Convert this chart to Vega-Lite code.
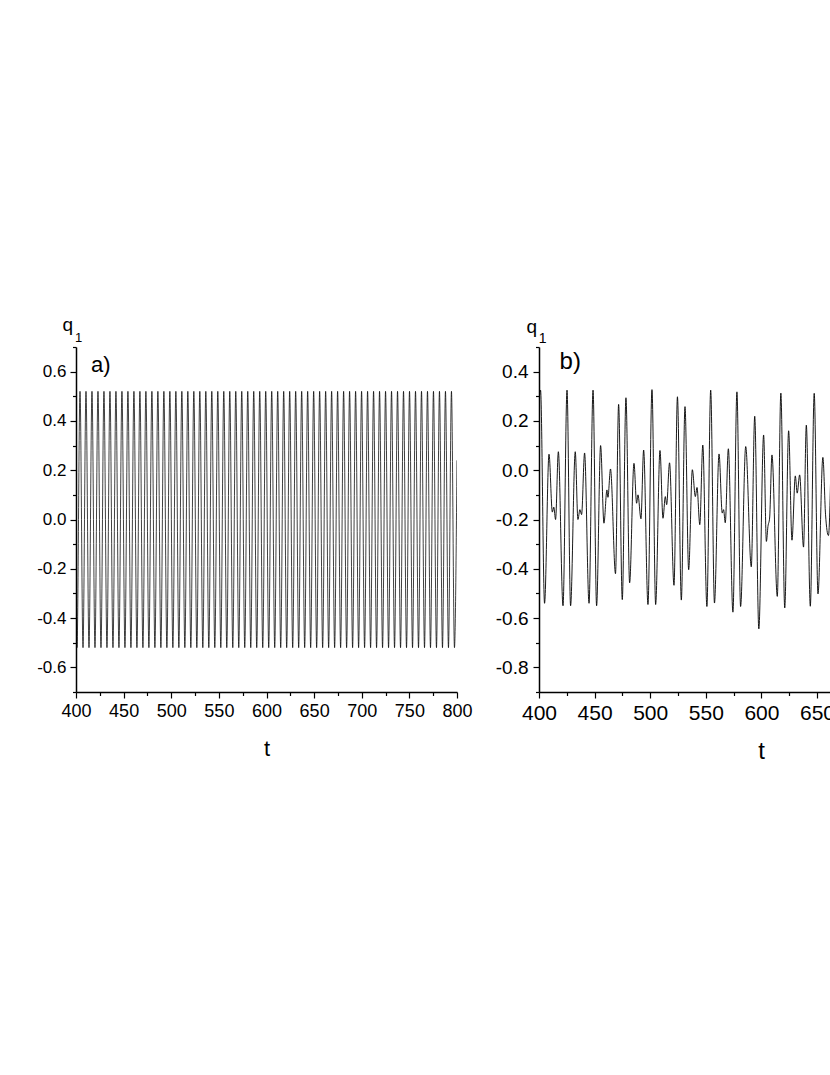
{
  "$schema": "https://vega.github.io/schema/vega-lite/v6.json",
  "padding": {"left": 36, "top": 315, "right": 0, "bottom": 20},
  "config": {
    "view": {"stroke": null},
    "font": "Liberation Sans",
    "axis": {"grid": false, "domainColor": "black", "tickColor": "black", "labelColor": "black", "titleColor": "black", "titleFontWeight": "normal", "domainWidth": 1.5, "tickWidth": 1.2, "labelFlush": false, "labelOverlap": false, "labelFont": "Liberation Sans", "titleFont": "Liberation Sans"}
  },
  "datasets": {
    "seriesA": [
      {"t": 400, "q": -0.25}, {"t": 401.05, "q": -0.52},
      {"t": 404.20, "q": 0.52}, {"t": 407.35, "q": -0.52},
      {"t": 410.49, "q": 0.52}, {"t": 413.64, "q": -0.52},
      {"t": 416.78, "q": 0.52}, {"t": 419.93, "q": -0.52},
      {"t": 423.07, "q": 0.52}, {"t": 426.22, "q": -0.52},
      {"t": 429.36, "q": 0.52}, {"t": 432.51, "q": -0.52},
      {"t": 435.65, "q": 0.52}, {"t": 438.80, "q": -0.52},
      {"t": 441.94, "q": 0.52}, {"t": 445.09, "q": -0.52},
      {"t": 448.23, "q": 0.52}, {"t": 451.38, "q": -0.52},
      {"t": 454.52, "q": 0.52}, {"t": 457.67, "q": -0.52},
      {"t": 460.81, "q": 0.52}, {"t": 463.96, "q": -0.52},
      {"t": 467.10, "q": 0.52}, {"t": 470.25, "q": -0.52},
      {"t": 473.39, "q": 0.52}, {"t": 476.54, "q": -0.52},
      {"t": 479.68, "q": 0.52}, {"t": 482.83, "q": -0.52},
      {"t": 485.97, "q": 0.52}, {"t": 489.12, "q": -0.52},
      {"t": 492.26, "q": 0.52}, {"t": 495.41, "q": -0.52},
      {"t": 498.55, "q": 0.52}, {"t": 501.70, "q": -0.52},
      {"t": 504.84, "q": 0.52}, {"t": 507.99, "q": -0.52},
      {"t": 511.13, "q": 0.52}, {"t": 514.28, "q": -0.52},
      {"t": 517.42, "q": 0.52}, {"t": 520.57, "q": -0.52},
      {"t": 523.71, "q": 0.52}, {"t": 526.86, "q": -0.52},
      {"t": 530.00, "q": 0.52}, {"t": 533.15, "q": -0.52},
      {"t": 536.29, "q": 0.52}, {"t": 539.44, "q": -0.52},
      {"t": 542.58, "q": 0.52}, {"t": 545.73, "q": -0.52},
      {"t": 548.87, "q": 0.52}, {"t": 552.02, "q": -0.52},
      {"t": 555.16, "q": 0.52}, {"t": 558.31, "q": -0.52},
      {"t": 561.45, "q": 0.52}, {"t": 564.60, "q": -0.52},
      {"t": 567.74, "q": 0.52}, {"t": 570.89, "q": -0.52},
      {"t": 574.03, "q": 0.52}, {"t": 577.18, "q": -0.52},
      {"t": 580.32, "q": 0.52}, {"t": 583.47, "q": -0.52},
      {"t": 586.61, "q": 0.52}, {"t": 589.76, "q": -0.52},
      {"t": 592.90, "q": 0.52}, {"t": 596.05, "q": -0.52},
      {"t": 599.19, "q": 0.52}, {"t": 602.34, "q": -0.52},
      {"t": 605.48, "q": 0.52}, {"t": 608.63, "q": -0.52},
      {"t": 611.77, "q": 0.52}, {"t": 614.92, "q": -0.52},
      {"t": 618.06, "q": 0.52}, {"t": 621.21, "q": -0.52},
      {"t": 624.35, "q": 0.52}, {"t": 627.50, "q": -0.52},
      {"t": 630.64, "q": 0.52}, {"t": 633.79, "q": -0.52},
      {"t": 636.93, "q": 0.52}, {"t": 640.08, "q": -0.52},
      {"t": 643.22, "q": 0.52}, {"t": 646.37, "q": -0.52},
      {"t": 649.51, "q": 0.52}, {"t": 652.66, "q": -0.52},
      {"t": 655.80, "q": 0.52}, {"t": 658.95, "q": -0.52},
      {"t": 662.09, "q": 0.52}, {"t": 665.24, "q": -0.52},
      {"t": 668.38, "q": 0.52}, {"t": 671.53, "q": -0.52},
      {"t": 674.67, "q": 0.52}, {"t": 677.82, "q": -0.52},
      {"t": 680.96, "q": 0.52}, {"t": 684.11, "q": -0.52},
      {"t": 687.25, "q": 0.52}, {"t": 690.40, "q": -0.52},
      {"t": 693.54, "q": 0.52}, {"t": 696.69, "q": -0.52},
      {"t": 699.83, "q": 0.52}, {"t": 702.98, "q": -0.52},
      {"t": 706.12, "q": 0.52}, {"t": 709.27, "q": -0.52},
      {"t": 712.41, "q": 0.52}, {"t": 715.56, "q": -0.52},
      {"t": 718.70, "q": 0.52}, {"t": 721.85, "q": -0.52},
      {"t": 724.99, "q": 0.52}, {"t": 728.14, "q": -0.52},
      {"t": 731.28, "q": 0.52}, {"t": 734.43, "q": -0.52},
      {"t": 737.57, "q": 0.52}, {"t": 740.72, "q": -0.52},
      {"t": 743.86, "q": 0.52}, {"t": 747.01, "q": -0.52},
      {"t": 750.15, "q": 0.52}, {"t": 753.30, "q": -0.52},
      {"t": 756.44, "q": 0.52}, {"t": 759.59, "q": -0.52},
      {"t": 762.73, "q": 0.52}, {"t": 765.88, "q": -0.52},
      {"t": 769.02, "q": 0.52}, {"t": 772.17, "q": -0.52},
      {"t": 775.31, "q": 0.52}, {"t": 778.46, "q": -0.52},
      {"t": 781.60, "q": 0.52}, {"t": 784.75, "q": -0.52},
      {"t": 787.89, "q": 0.52}, {"t": 791.04, "q": -0.52},
      {"t": 794.18, "q": 0.52}, {"t": 797.33, "q": -0.52},
      {"t": 800, "q": 0.24}
    ],
    "seriesB": [
      {"t": 400.0, "q": 0.28}, {"t": 401.4, "q": 0.325}, {"t": 405.0, "q": -0.54},
      {"t": 409.0, "q": 0.065}, {"t": 412.0, "q": -0.17}, {"t": 413.3, "q": -0.15},
      {"t": 414.9, "q": -0.2}, {"t": 417.4, "q": 0.075}, {"t": 421.6, "q": -0.55},
      {"t": 425.2, "q": 0.325}, {"t": 428.4, "q": -0.55}, {"t": 432.6, "q": 0.075},
      {"t": 435.0, "q": -0.2}, {"t": 436.8, "q": -0.16}, {"t": 438.3, "q": -0.18},
      {"t": 441.0, "q": 0.07}, {"t": 445.0, "q": -0.54}, {"t": 448.6, "q": 0.325},
      {"t": 451.8, "q": -0.55}, {"t": 455.4, "q": 0.1}, {"t": 458.4, "q": -0.215},
      {"t": 461.1, "q": -0.08}, {"t": 462.0, "q": -0.11}, {"t": 464.3, "q": 0.005},
      {"t": 468.8, "q": -0.42}, {"t": 471.6, "q": 0.267}, {"t": 474.9, "q": -0.525},
      {"t": 478.2, "q": 0.294}, {"t": 481.5, "q": -0.457}, {"t": 485.4, "q": 0.028},
      {"t": 487.8, "q": -0.134}, {"t": 489.0, "q": -0.1}, {"t": 491.7, "q": -0.197},
      {"t": 494.1, "q": 0.082}, {"t": 498.0, "q": -0.545}, {"t": 501.6, "q": 0.327},
      {"t": 504.9, "q": -0.545}, {"t": 508.8, "q": 0.08}, {"t": 511.5, "q": -0.195},
      {"t": 513.6, "q": -0.107}, {"t": 514.8, "q": -0.14}, {"t": 517.4, "q": 0.03},
      {"t": 521.4, "q": -0.467}, {"t": 524.5, "q": 0.298}, {"t": 528.0, "q": -0.527},
      {"t": 531.3, "q": 0.258}, {"t": 534.6, "q": -0.404}, {"t": 537.9, "q": 0.002},
      {"t": 540.6, "q": -0.107}, {"t": 542.1, "q": -0.07}, {"t": 544.6, "q": -0.221},
      {"t": 547.3, "q": 0.102}, {"t": 551.0, "q": -0.553}, {"t": 554.4, "q": 0.325},
      {"t": 557.8, "q": -0.539}, {"t": 561.9, "q": 0.066}, {"t": 564.8, "q": -0.174},
      {"t": 566.0, "q": -0.16}, {"t": 567.5, "q": -0.213}, {"t": 570.3, "q": 0.087},
      {"t": 574.4, "q": -0.576}, {"t": 578.0, "q": 0.318}, {"t": 581.3, "q": -0.553},
      {"t": 585.9, "q": 0.096}, {"t": 590.9, "q": -0.392}, {"t": 594.0, "q": 0.219},
      {"t": 597.7, "q": -0.644}, {"t": 602.0, "q": 0.143}, {"t": 604.5, "q": -0.289},
      {"t": 605.9, "q": -0.228}, {"t": 607.4, "q": -0.194}, {"t": 609.5, "q": 0.062},
      {"t": 614.3, "q": -0.512}, {"t": 617.5, "q": 0.313}, {"t": 621.0, "q": -0.559},
      {"t": 624.5, "q": 0.16}, {"t": 627.5, "q": -0.284}, {"t": 630.5, "q": -0.023},
      {"t": 632.2, "q": -0.093}, {"t": 634.4, "q": -0.019}, {"t": 637.9, "q": -0.312},
      {"t": 640.4, "q": 0.183}, {"t": 644.0, "q": -0.552}, {"t": 647.5, "q": 0.312},
      {"t": 650.9, "q": -0.502}, {"t": 655.3, "q": 0.052}, {"t": 657.7, "q": -0.181},
      {"t": 660.3, "q": -0.265}, {"t": 663.0, "q": 0.123}
    ]
  },
  "spacing": 82,
  "bounds": "flush",
  "hconcat": [
    {
      "width": 381,
      "height": 345,
      "resolve": {"axis": {"x": "independent", "y": "independent"}},
      "layer": [
        {
          "data": {"name": "seriesA"},
          "mark": {"type": "line", "color": "black", "strokeWidth": 0.75, "interpolate": "monotone", "clip": true},
          "encoding": {
            "x": {"field": "t", "type": "quantitative", "scale": {"domain": [400, 800], "nice": false, "zero": false},
              "axis": {"orient": "bottom", "values": [400, 450, 500, 550, 600, 650, 700, 750, 800], "tickSize": 6, "labelFontSize": 18, "labelPadding": 4, "title": "t", "titleFontSize": 22, "titlePadding": 18}},
            "y": {"field": "q", "type": "quantitative", "scale": {"domain": [-0.7, 0.7], "nice": false, "zero": false},
              "axis": {"orient": "left", "values": [-0.6, -0.4, -0.2, 0, 0.2, 0.4, 0.6], "tickSize": 6, "labelFontSize": 17, "labelPadding": 4,
                "labelExpr": "datum.value < 0 ? '-' + format(-datum.value, '.1f') : format(datum.value, '.1f')",
                "title": "q", "titleAngle": 0, "titleAlign": "left", "titleBaseline": "alphabetic", "titleX": -14, "titleY": -16.5, "titleFontSize": 19}}
          }
        },
        {
          "data": {"values": [{"label": "a)"}]},
          "mark": {"type": "text", "align": "left", "baseline": "alphabetic", "fontSize": 22, "font": "Liberation Sans", "fill": "black"},
          "encoding": {
            "x": {"datum": 415.7, "type": "quantitative", "scale": {"domain": [400, 800], "nice": false, "zero": false},
              "axis": {"orient": "bottom", "values": [425, 475, 525, 575, 625, 675, 725, 775], "tickSize": 3.5, "labels": false, "domain": false, "title": null}},
            "y": {"datum": 0.6, "type": "quantitative", "scale": {"domain": [-0.7, 0.7], "nice": false, "zero": false},
              "axis": {"orient": "left", "values": [-0.7, -0.5, -0.3, -0.1, 0.1, 0.3, 0.5, 0.7], "tickSize": 3.5, "labels": false, "domain": false, "title": null}},
            "text": {"field": "label"}
          }
        },
        {
          "data": {"values": [{"label": "1"}]},
          "mark": {"type": "text", "align": "left", "baseline": "alphabetic", "fontSize": 13, "font": "Liberation Sans", "fill": "black", "clip": false},
          "encoding": {
            "x": {"datum": 399.0, "type": "quantitative", "axis": null},
            "y": {"datum": 0.72, "type": "quantitative", "axis": null},
            "text": {"field": "label"}
          }
        }
      ]
    },
    {
      "width": 292,
      "height": 345,
      "resolve": {"axis": {"x": "independent", "y": "independent"}},
      "layer": [
        {
          "data": {"name": "seriesB"},
          "mark": {"type": "line", "color": "black", "strokeWidth": 0.9, "interpolate": "monotone", "clip": true},
          "encoding": {
            "x": {"field": "t", "type": "quantitative", "scale": {"domain": [400, 662.6], "nice": false, "zero": false},
              "axis": {"orient": "bottom", "values": [400, 450, 500, 550, 600, 650], "tickSize": 6, "labelFontSize": 21, "labelPadding": 4, "title": "t", "titleFontSize": 24, "titlePadding": 16, "titleX": 222, "titleAlign": "center"}},
            "y": {"field": "q", "type": "quantitative", "scale": {"domain": [-0.9, 0.5], "nice": false, "zero": false},
              "axis": {"orient": "left", "values": [-0.8, -0.6, -0.4, -0.2, 0, 0.2, 0.4], "tickSize": 6, "labelFontSize": 19, "labelPadding": 5,
                "labelExpr": "datum.value < 0 ? '-' + format(-datum.value, '.1f') : format(datum.value, '.1f')",
                "title": "q", "titleAngle": 0, "titleAlign": "left", "titleBaseline": "alphabetic", "titleX": -13, "titleY": -14.5, "titleFontSize": 19}}
          }
        },
        {
          "data": {"values": [{"label": "b)"}]},
          "mark": {"type": "text", "align": "left", "baseline": "alphabetic", "fontSize": 24, "font": "Liberation Sans", "fill": "black"},
          "encoding": {
            "x": {"datum": 418.5, "type": "quantitative", "scale": {"domain": [400, 662.6], "nice": false, "zero": false},
              "axis": {"orient": "bottom", "values": [425, 475, 525, 575, 625], "tickSize": 3.5, "labels": false, "domain": false, "title": null}},
            "y": {"datum": 0.41, "type": "quantitative", "scale": {"domain": [-0.9, 0.5], "nice": false, "zero": false},
              "axis": {"orient": "left", "values": [-0.9, -0.7, -0.5, -0.3, -0.1, 0.1, 0.3, 0.5], "tickSize": 3.5, "labels": false, "domain": false, "title": null}},
            "text": {"field": "label"}
          }
        },
        {
          "data": {"values": [{"label": "1"}]},
          "mark": {"type": "text", "align": "left", "baseline": "alphabetic", "fontSize": 14, "font": "Liberation Sans", "fill": "black", "clip": false},
          "encoding": {
            "x": {"datum": 399.7, "type": "quantitative", "axis": null},
            "y": {"datum": 0.515, "type": "quantitative", "axis": null},
            "text": {"field": "label"}
          }
        }
      ]
    }
  ]
}
